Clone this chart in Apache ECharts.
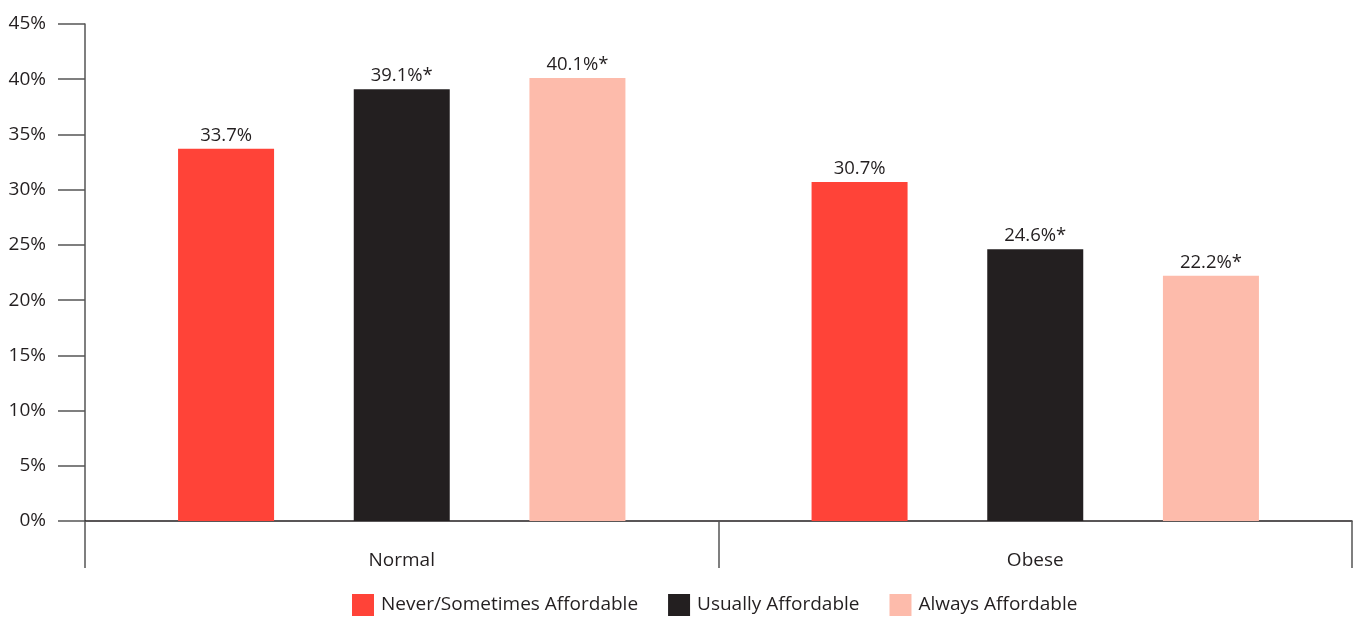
<!DOCTYPE html>
<html>
<head>
<meta charset="utf-8">
<script src="https://cdn.jsdelivr.net/npm/echarts@6/dist/echarts.min.js"></script>
<style>
  html, body { margin: 0; padding: 0; background: #fff; }
  #chart { width: 1353px; height: 617px; }
</style>
</head>
<body>
<div id="chart"></div>
<script>
// Weight status groups and the share in each affordability group
const categories = ['Normal', 'Obese'];
const seriesNames = ['Never/Sometimes Affordable', 'Usually Affordable', 'Always Affordable'];
const neverSometimes = [33.7, 30.7];
const usually = [39.1, 24.6];
const always = [40.1, 22.2];
// Significance markers shown after the value labels
const neverMarks = ['', ''];
const usuallyMarks = ['*', '*'];
const alwaysMarks = ['*', '*'];
const yTicks = [0, 5, 10, 15, 20, 25, 30, 35, 40, 45];

const colors = ['#ff4338', '#231f20', '#fdbbab'];
const textColor = '#231f20';
const fontFamily = '"Open Sans", "Noto Sans", sans-serif';

function makeSeries(name, values, marks, color) {
  return {
    name: name,
    type: 'bar',
    data: values,
    barWidth: 96,
    barGap: '83%',
    itemStyle: { color: color },
    label: {
      show: true,
      position: 'top',
      distance: 4,
      color: textColor,
      fontFamily: fontFamily,
      fontSize: 18.5,
      formatter: p => p.value.toFixed(1) + '%' + marks[p.dataIndex]
    }
  };
}

const chart = echarts.init(document.getElementById('chart'), null, { renderer: 'canvas' });
chart.setOption({
  animation: false,
  color: colors,
  textStyle: { fontFamily: fontFamily, color: textColor },
  grid: { left: 85, right: 1, top: 24, bottom: 96, containLabel: false },
  legend: {
    top: 594,
    left: 352,
    padding: 0,
    itemWidth: 22,
    itemHeight: 22,
    itemGap: 30,
    icon: 'rect',
    data: seriesNames,
    textStyle: { fontFamily: fontFamily, fontSize: 19, color: textColor, padding: [4, 0, 0, 2] }
  },
  xAxis: {
    type: 'category',
    data: categories,
    axisLine: { lineStyle: { color: '#231f20', width: 1.5 } },
    axisTick: { show: true, length: 47, lineStyle: { color: '#555', width: 1.5 } },
    axisLabel: { margin: 30, fontSize: 19, color: textColor, fontFamily: fontFamily }
  },
  yAxis: {
    type: 'value',
    min: yTicks[0],
    max: yTicks[yTicks.length - 1],
    interval: 5,
    axisLine: { show: true, lineStyle: { color: '#555', width: 1.5 } },
    axisTick: { show: true, length: 27, lineStyle: { color: '#555', width: 1.5 } },
    splitLine: { show: false },
    axisLabel: {
      margin: 39,
      fontSize: 19,
      color: textColor,
      fontFamily: fontFamily,
      formatter: v => v + '%'
    }
  },
  series: [
    makeSeries(seriesNames[0], neverSometimes, neverMarks, colors[0]),
    makeSeries(seriesNames[1], usually, usuallyMarks, colors[1]),
    makeSeries(seriesNames[2], always, alwaysMarks, colors[2])
  ]
});
</script>
</body>
</html>
